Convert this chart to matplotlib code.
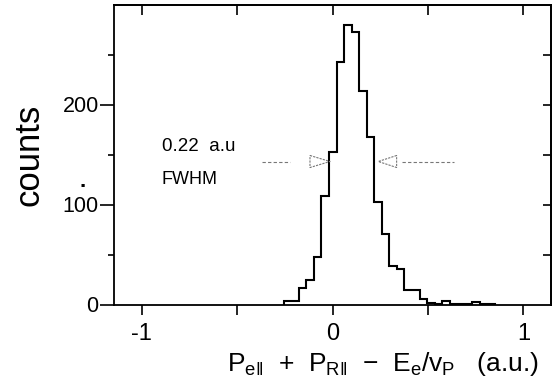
import numpy as np
import matplotlib
matplotlib.use("Agg")
import matplotlib.pyplot as plt
from matplotlib.ticker import FixedLocator, NullFormatter

plt.rcParams['font.family'] = ['Liberation Sans', 'DejaVu Sans']
plt.rcParams['mathtext.fontset'] = 'custom'
plt.rcParams['mathtext.rm'] = 'Liberation Sans'
plt.rcParams['mathtext.it'] = 'Liberation Sans'
plt.rcParams['mathtext.bf'] = 'Liberation Sans:bold'

# histogram of P_e|| + P_R|| - E_e/v_P, bins of ~0.04 a.u.
bin_edges = [-0.255, -0.216, -0.176, -0.137, -0.097, -0.058, -0.018, 0.021,
             0.061, 0.100, 0.140, 0.179, 0.219, 0.258, 0.298, 0.337, 0.377,
             0.416, 0.456, 0.495, 0.535, 0.574, 0.614, 0.653, 0.693, 0.732,
             0.772, 0.811, 0.851]
counts = [4, 4, 17, 25, 48, 109, 153, 243, 280, 273, 214, 168, 103, 71, 39,
          36, 15, 15, 6, 2, 1, 4, 1, 1, 1, 3, 1, 1]

# FWHM marker
fwhm_y = 143
left_arrow = dict(line=(-0.37, -0.223), base=-0.118, tip=-0.013)
right_arrow = dict(line=(0.363, 0.637), base=0.336, tip=0.240)
arrow_half = 6

fig = plt.figure(figsize=(5.55, 3.84), dpi=100)
ax = fig.add_axes([114 / 555, 1 - 304.5 / 384, 437 / 555, 299.5 / 384])

ax.stairs(counts, bin_edges, baseline=0, fill=False, color='black', lw=1.5)

grey = '#777777'
for a in (left_arrow, right_arrow):
    ax.plot(a['line'], [fwhm_y, fwhm_y], color=grey, lw=0.8, ls=(0, (3, 2)))
    ax.plot([a['base'], a['tip'], a['base'], a['base']],
            [fwhm_y + arrow_half, fwhm_y, fwhm_y - arrow_half, fwhm_y + arrow_half],
            color=grey, lw=0.8, ls=(0, (2, 1)))

ax.text(-0.895, 158, '0.22  a.u', fontsize=13.5, ha='left', va='center')
ax.text(-0.895, 125, 'FWHM', fontsize=13, ha='left', va='center')

ax.set_xlim(-1.145, 1.145)
ax.set_ylim(0, 299.5)

ax.xaxis.set_major_locator(FixedLocator([-1, 0, 1]))
ax.xaxis.set_minor_locator(FixedLocator([-0.5, 0.5]))
ax.set_xticklabels(['-1', '0', '1'])
ax.yaxis.set_major_locator(FixedLocator([0, 100, 200]))
ax.yaxis.set_minor_locator(FixedLocator([50, 150, 250]))
ax.set_yticklabels(['0', '100', '200'])

ax.tick_params(axis='x', which='both', direction='out', length=7, width=1.2,
               labelsize=17, pad=6, top=False)
ax.tick_params(axis='y', which='major', direction='out', length=10, width=1.2,
               labelsize=15.5, pad=1, right=False)
ax.tick_params(axis='y', which='minor', direction='out', length=4, width=1.2)

# inward ticks on top and right
tax = ax.secondary_xaxis('top')
tax.xaxis.set_major_locator(FixedLocator([-1, -0.5, 0, 0.5, 1]))
tax.xaxis.set_major_formatter(NullFormatter())
tax.tick_params(direction='in', length=7, width=1.2)
rax = ax.secondary_yaxis('right')
rax.yaxis.set_major_locator(FixedLocator([50, 100, 150, 200, 250]))
rax.yaxis.set_major_formatter(NullFormatter())
rax.tick_params(direction='in', length=6, width=1.2)

for s in ax.spines.values():
    s.set_linewidth(1.3)
tax.spines['top'].set_linewidth(1.3)
rax.spines['right'].set_linewidth(1.3)

fig.text(29 / 555, 1 - 155 / 384, 'counts', rotation=90, fontsize=25,
         ha='center', va='center')
fig.text(83 / 555, 1 - 181 / 384, '.', fontsize=16, fontweight='bold',
         ha='center', va='center')
fig.text(383 / 555, 1 - 364 / 384,
         r'$\mathrm{P}_{\mathrm{e}\Vert}$  +  $\mathrm{P}_{\mathrm{R}\Vert}$  $-$  '
         r'$\mathrm{E}_{\mathrm{e}}/\mathrm{v}_{\mathrm{P}}$   (a.u.)',
         fontsize=19, ha='center', va='center')

fig.savefig('out.png', dpi=100)
